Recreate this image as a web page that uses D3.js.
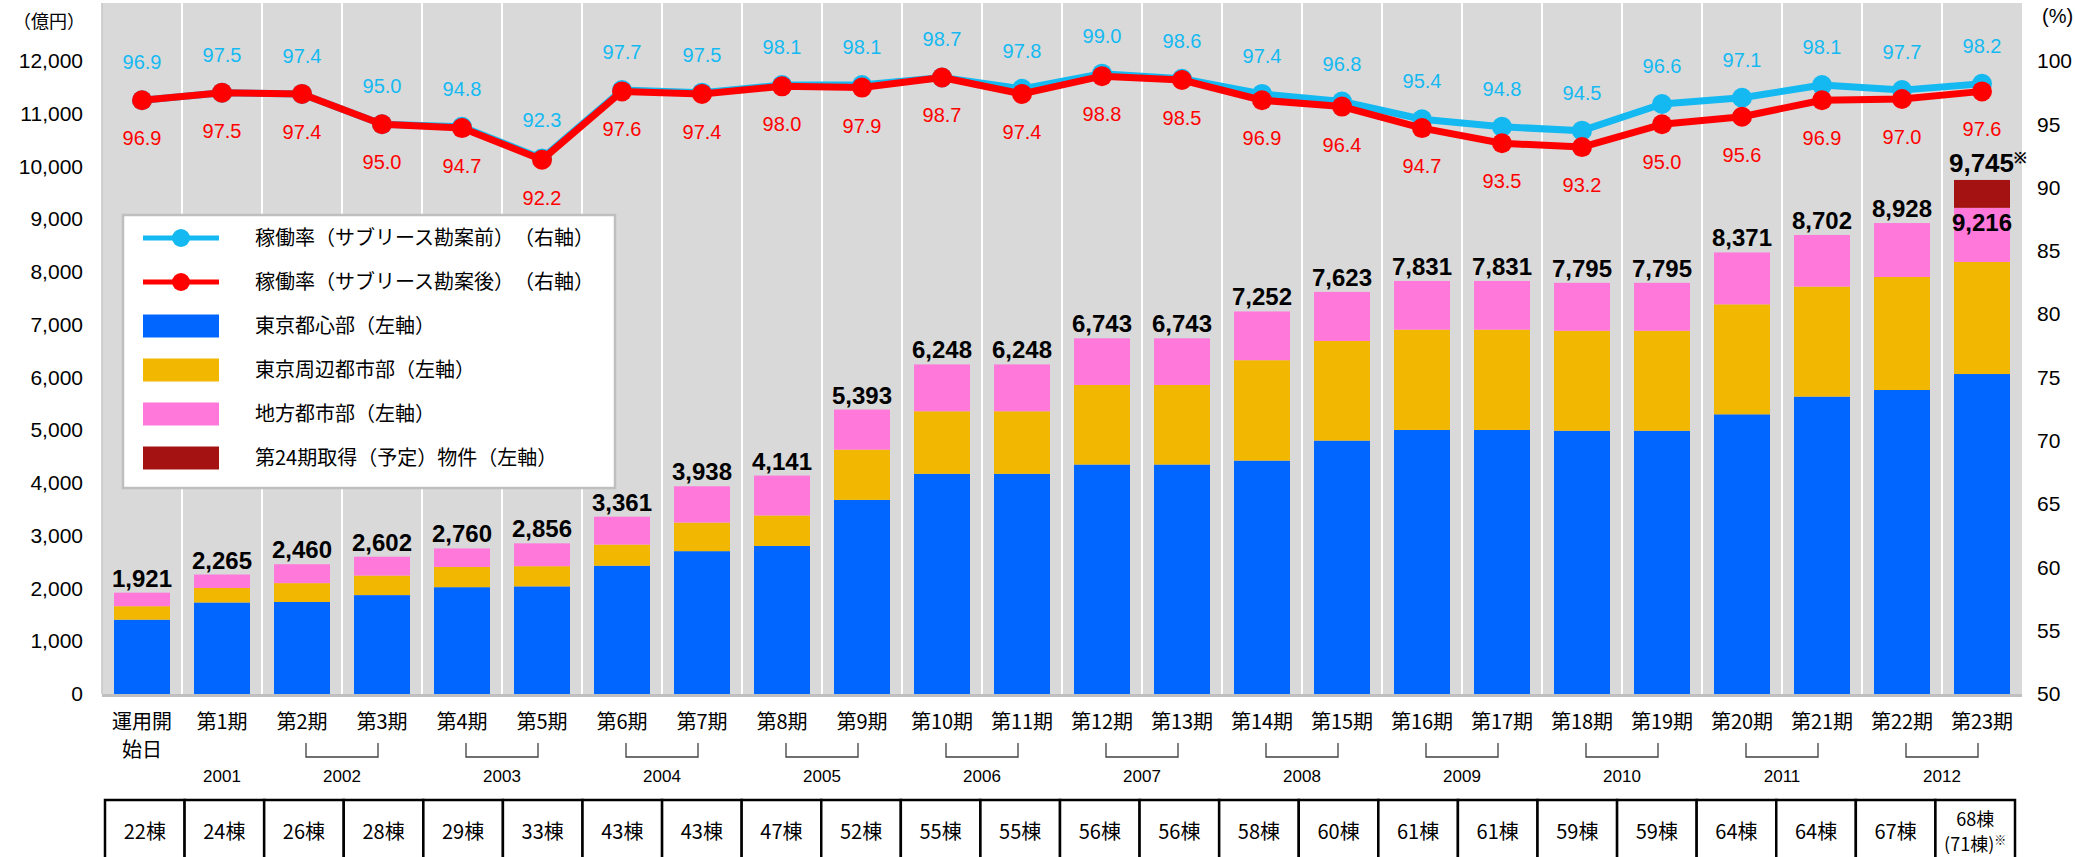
<!DOCTYPE html>
<html>
<head>
<meta charset="utf-8">
<script src="https://d3js.org/d3.v7.min.js"></script>
<style>
  body { margin: 0; background: #fff; }
  svg { display: block; }
  text { text-spacing-trim: space-all; }
  .num { font-family: "Liberation Sans", Arial, sans-serif; }
  .jp { font-family: "Noto Sans CJK JP", sans-serif; }
</style>
</head>
<body>
<script>
// ---- data ----
const categories = ["運用開始日","第1期","第2期","第3期","第4期","第5期","第6期","第7期","第8期","第9期","第10期","第11期",
                    "第12期","第13期","第14期","第15期","第16期","第17期","第18期","第19期","第20期","第21期","第22期","第23期"];
const tokyoCenter = [1409,1735,1744,1875,2025,2040,2432,2708,2807,3680,4174,4174,4350,4350,4425,4804,5006,5006,4991,4991,5302,5638,5763,6066];
const tokyoArea   = [256,275,358,370,384,383,401,542,578,952,1186,1186,1509,1509,1903,1888,1901,1901,1894,1894,2085,2086,2142,2124];
const regional    = [256,255,358,357,351,433,528,688,756,761,888,888,884,884,924,931,924,924,910,910,984,978,1023,1026];
const planned24   = [0,0,0,0,0,0,0,0,0,0,0,0,0,0,0,0,0,0,0,0,0,0,0,529];
const totals      = [1921,2265,2460,2602,2760,2856,3361,3938,4141,5393,6248,6248,6743,6743,7252,7623,7831,7831,7795,7795,8371,8702,8928,9216];
const grandTotal  = 9745;
const rateBefore  = [96.9,97.5,97.4,95.0,94.8,92.3,97.7,97.5,98.1,98.1,98.7,97.8,99.0,98.6,97.4,96.8,95.4,94.8,94.5,96.6,97.1,98.1,97.7,98.2];
const rateAfter   = [96.9,97.5,97.4,95.0,94.7,92.2,97.6,97.4,98.0,97.9,98.7,97.4,98.8,98.5,96.9,96.4,94.7,93.5,93.2,95.0,95.6,96.9,97.0,97.6];
const buildings   = ["22棟","24棟","26棟","28棟","29棟","33棟","43棟","43棟","47棟","52棟","55棟","55棟",
                     "56棟","56棟","58棟","60棟","61棟","61棟","59棟","59棟","64棟","64棟","67棟","68棟"];
const years = [["2001",1,1],["2002",2,3],["2003",4,5],["2004",6,7],["2005",8,9],["2006",10,11],
               ["2007",12,13],["2008",14,15],["2009",16,17],["2010",18,19],["2011",20,21],["2012",22,23]];
const leftTicks = [0,1000,2000,3000,4000,5000,6000,7000,8000,9000,10000,11000,12000];
const rightTicks = [50,55,60,65,70,75,80,85,90,95,100];

const seriesKeys = ["tokyoCenter","tokyoArea","regional","planned24"];
const seriesColors = {tokyoCenter:"#0066FF", tokyoArea:"#F2B700", regional:"#FF78DA", planned24:"#A51212"};
const lineBlue = "#14B9F2", lineRed = "#FF0000";

const W = 2075, H = 857;
const plotL = 102, plotR = 2022, plotT = 3, base = 694;

const svg = d3.select("body").append("svg").attr("width", W).attr("height", H);

const x = d3.scaleBand().domain(categories).range([plotL, plotR]).paddingInner(0.3).paddingOuter(0.15);
const step = x.step();
const y = d3.scaleLinear().domain([0, 13000]).range([base, base - 13 * 52.75]);
const yR = d3.scaleLinear().domain([50, 100]).range([y(0), y(12000)]);
const cx = d => x(d) + x.bandwidth() / 2;

// plot background
svg.append("rect").attr("x", plotL).attr("y", plotT).attr("width", plotR - plotL).attr("height", base - plotT)
  .attr("fill", "#D9D9D9");
svg.append("g").selectAll("line").data(categories.slice(1)).join("line")
  .attr("x1", d => x(d) - step * 0.15).attr("x2", d => x(d) - step * 0.15)
  .attr("y1", plotT).attr("y2", base)
  .attr("stroke", "#fff").attr("stroke-width", 2);
svg.append("line").attr("x1", plotL).attr("x2", plotL).attr("y1", plotT).attr("y2", base)
  .attr("stroke", "#C4C4C4").attr("stroke-width", 1.5);

// stacked bars
const table = categories.map((c, i) => ({cat: c, tokyoCenter: tokyoCenter[i], tokyoArea: tokyoArea[i], regional: regional[i], planned24: planned24[i]}));
const stacked = d3.stack().keys(seriesKeys)(table);
svg.append("g").selectAll("g").data(stacked).join("g")
  .attr("fill", s => seriesColors[s.key])
  .selectAll("rect").data(s => s.filter(d => d[1] > d[0])).join("rect")
  .attr("x", d => x(d.data.cat)).attr("width", x.bandwidth())
  .attr("y", d => y(d[1])).attr("height", d => y(d[0]) - y(d[1]));

// baseline
svg.append("line").attr("x1", plotL).attr("x2", plotR).attr("y1", base + 1.5).attr("y2", base + 1.5)
  .attr("stroke", "#BFBFBF").attr("stroke-width", 3);

// bar totals
svg.append("g").attr("class", "num").selectAll("text").data(totals).join("text")
  .attr("x", (d, i) => cx(categories[i]))
  .attr("y", (d, i) => i === totals.length - 1 ? y(d) + 23 : y(d) - 6)
  .attr("text-anchor", "middle").attr("font-size", 24).attr("font-weight", "bold")
  .text(d => d3.format(",")(d));
const gt = svg.append("text").attr("class", "num")
  .attr("x", cx(categories[categories.length - 1]) + 6).attr("y", y(grandTotal) - 8)
  .attr("text-anchor", "middle").attr("font-size", 26).attr("font-weight", "bold");
gt.append("tspan").text(d3.format(",")(grandTotal));
gt.append("tspan").attr("font-size", 15).attr("dy", -9).text("※");

// rate lines
const line = d3.line().x((d, i) => cx(categories[i])).y(d => yR(d));
[[rateBefore, lineBlue], [rateAfter, lineRed]].forEach(([data, col]) => {
  svg.append("path").datum(data).attr("d", line).attr("fill", "none")
    .attr("stroke", col).attr("stroke-width", 7).attr("stroke-linejoin", "round");
  svg.append("g").selectAll("circle").data(data).join("circle")
    .attr("cx", (d, i) => cx(categories[i])).attr("cy", d => yR(d)).attr("r", 10).attr("fill", col);
});
svg.append("g").attr("class", "num").selectAll("text").data(rateBefore).join("text")
  .attr("x", (d, i) => cx(categories[i])).attr("y", d => yR(d) - 38).attr("dy", "0.35em")
  .attr("text-anchor", "middle").attr("font-size", 20).attr("fill", lineBlue)
  .text(d => d.toFixed(1));
svg.append("g").attr("class", "num").selectAll("text").data(rateAfter).join("text")
  .attr("x", (d, i) => cx(categories[i])).attr("y", d => yR(d) + 38).attr("dy", "0.35em")
  .attr("text-anchor", "middle").attr("font-size", 20).attr("fill", lineRed)
  .text(d => d.toFixed(1));

// axes
const leftAxis = svg.append("g").attr("class", "num").attr("transform", "translate(83,0)")
  .call(d3.axisLeft(y).tickValues(leftTicks).tickFormat(d3.format(",")).tickSize(0).tickPadding(0));
leftAxis.select(".domain").remove();
leftAxis.selectAll("text").attr("font-size", 21).attr("fill", "#000").attr("font-family", "Liberation Sans, Arial");

const rightAxis = svg.append("g").attr("transform", "translate(2037,0)")
  .call(d3.axisRight(yR).tickValues(rightTicks).tickSize(0).tickPadding(0));
rightAxis.select(".domain").remove();
rightAxis.selectAll("text").attr("font-size", 21).attr("fill", "#000").attr("font-family", "Liberation Sans, Arial");

svg.append("text").attr("class", "jp").attr("x", 13).attr("y", 22).attr("dy", "0.35em")
  .attr("font-size", 18).text("（億円）");
svg.append("text").attr("class", "num").attr("x", 2042).attr("y", 16).attr("dy", "0.35em")
  .attr("font-size", 20).text("(%)");

// category labels
const catG = svg.append("g").attr("class", "jp").attr("font-size", 20);
categories.forEach((c, i) => {
  if (i === 0) {
    catG.append("text").attr("x", cx(c)).attr("y", 722).attr("dy", "0.35em").attr("text-anchor", "middle").text("運用開");
    catG.append("text").attr("x", cx(c)).attr("y", 750).attr("dy", "0.35em").attr("text-anchor", "middle").text("始日");
  } else {
    catG.append("text").attr("x", cx(c)).attr("y", 722).attr("dy", "0.35em").attr("text-anchor", "middle").text(c);
  }
});

// year brackets
const yrG = svg.append("g");
years.forEach(([label, a, b]) => {
  const mid = (cx(categories[a]) + cx(categories[b])) / 2;
  if (a !== b) {
    yrG.append("path").attr("d", `M${mid - 36},743V757H${mid + 36}V743`)
      .attr("fill", "none").attr("stroke", "#404040").attr("stroke-width", 1.3);
  }
  yrG.append("text").attr("class", "num").attr("x", mid).attr("y", 776).attr("dy", "0.35em")
    .attr("text-anchor", "middle").attr("font-size", 17).text(label);
});

// building count table
const tx = d3.scaleBand().domain(categories).range([105, 2015]);
const tab = svg.append("g");
tab.selectAll("rect").data(categories).join("rect")
  .attr("x", d => tx(d)).attr("y", 800).attr("width", tx.bandwidth()).attr("height", 70)
  .attr("fill", "#fff").attr("stroke", "#000").attr("stroke-width", 2.5);
tab.append("g").attr("class", "jp").selectAll("text").data(buildings.slice(0, -1)).join("text")
  .attr("x", (d, i) => tx(categories[i]) + tx.bandwidth() / 2).attr("y", 832).attr("dy", "0.35em")
  .attr("text-anchor", "middle").attr("font-size", 20).text(d => d);
const lastX = tx(categories[categories.length - 1]) + tx.bandwidth() / 2;
tab.append("text").attr("class", "jp").attr("x", lastX).attr("y", 820).attr("dy", "0.35em")
  .attr("text-anchor", "middle").attr("font-size", 18).text(buildings[buildings.length - 1]);
const lt = tab.append("text").attr("class", "jp").attr("x", lastX).attr("y", 845).attr("dy", "0.35em")
  .attr("text-anchor", "middle").attr("font-size", 18);
lt.append("tspan").text("(71棟)");
lt.append("tspan").attr("font-size", 12).attr("dy", -6).text("※");

// legend
const lg = svg.append("g");
lg.append("rect").attr("x", 123).attr("y", 215).attr("width", 492).attr("height", 273)
  .attr("fill", "#fff").attr("stroke", "#BFBFBF").attr("stroke-width", 2.5);
const legendItems = [
  {label: "稼働率（サブリース勘案前）（右軸）", type: "line", color: lineBlue},
  {label: "稼働率（サブリース勘案後）（右軸）", type: "line", color: lineRed},
  {label: "東京都心部（左軸）", type: "rect", color: seriesColors.tokyoCenter},
  {label: "東京周辺都市部（左軸）", type: "rect", color: seriesColors.tokyoArea},
  {label: "地方都市部（左軸）", type: "rect", color: seriesColors.regional},
  {label: "第24期取得（予定）物件（左軸）", type: "rect", color: seriesColors.planned24}
];
legendItems.forEach((it, i) => {
  const cy = 238 + i * 44;
  if (it.type === "line") {
    lg.append("line").attr("x1", 143).attr("x2", 219).attr("y1", cy).attr("y2", cy)
      .attr("stroke", it.color).attr("stroke-width", 5);
    lg.append("circle").attr("cx", 181).attr("cy", cy).attr("r", 9).attr("fill", it.color);
  } else {
    lg.append("rect").attr("x", 143).attr("y", cy - 11.5).attr("width", 76).attr("height", 23).attr("fill", it.color);
  }
  lg.append("text").attr("class", "jp").attr("x", 255).attr("y", cy).attr("dy", "0.35em")
    .attr("font-size", 20).text(it.label);
});
</script>
</body>
</html>
